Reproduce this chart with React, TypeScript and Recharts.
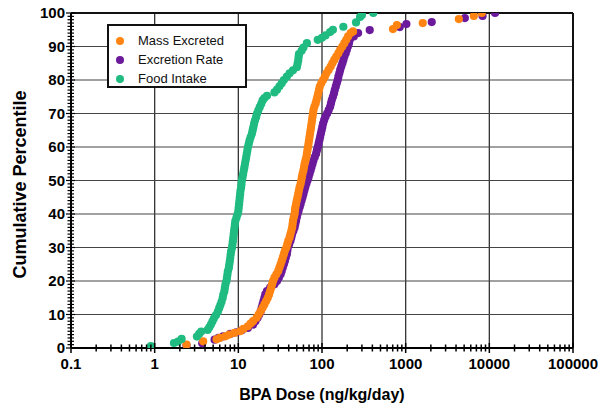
import {
  ScatterChart,
  Scatter,
  XAxis,
  YAxis,
  ReferenceLine,
} from "recharts";

// [dose ng/kg/day, cumulative percentile]
const massExcreted: [number, number][] = [
  [2.4, 1.0], [3.8, 2.0], [5.5, 2.6], [6.0, 3.0], [7.0, 3.5], [7.8, 4.0], [9.0, 4.5],
  [10.5, 5.0], [11.5, 5.7], [13, 6.5], [14, 7.3], [15, 8.0], [16.5, 9.0], [17.5, 10.0],
  [18.5, 11.0], [19.5, 12.0], [20.5, 13.0], [21.5, 14.0], [22.5, 15.0], [23.3, 16.0],
  [24, 17.0], [24.7, 18.0], [25.3, 19.0], [26, 20.0], [27, 21.0], [28.5, 22.0], [30, 23.0],
  [31, 24.0], [32, 25.0], [33, 26.0], [34, 27.0], [35, 28.0], [36, 29.0], [37.5, 30.0],
  [38.5, 31.0], [39.5, 32.0], [41, 33.0], [42, 34.0], [43, 35.0], [44, 36.0], [44.5, 37.0],
  [45, 38.0], [46, 39.0], [47, 40.0], [47.5, 41.0], [48, 42.0], [49, 43.0], [50, 44.0],
  [51, 45.0], [52, 46.0], [53, 47.0], [54, 48.0], [55.5, 49.0], [56.5, 50.0], [57.5, 51.0],
  [58.5, 52.0], [60, 53.0], [61, 54.0], [62, 55.0], [63.5, 56.0], [65, 57.0], [66, 58.0],
  [67, 59.0], [68, 60.0], [69, 61.0], [70, 62.0], [71, 63.0], [72, 64.0], [73, 65.0],
  [74, 66.0], [75, 67.0], [76, 68.0], [77, 69.0], [78, 70.0], [79, 71.0], [81, 72.0],
  [84, 73.0], [86, 74.0], [88, 75.0], [90, 76.0], [92, 77.0], [94, 78.0], [98, 79.0],
  [103, 80.0], [108, 81.0], [113, 82.0], [120, 83.0], [127, 84.0], [133, 85.0], [140, 86.0],
  [148, 87.0], [157, 88.0], [165, 89.0], [175, 90.0], [185, 91.0], [195, 92.0], [205, 93.0],
  [220, 94.0], [235, 94.5], [705, 95.2], [785, 96.4], [1600, 97.0], [4320, 98.2],
  [6530, 99.1], [8130, 100],
];

const excretionRate: [number, number][] = [
  [2.4, 0.8], [3.7, 1.4], [5.2, 2.5], [5.8, 3.0], [6.6, 3.5], [8, 4.2], [9.5, 4.7],
  [11, 5.3], [13, 6.0], [15, 7.0], [16, 8.0], [17, 9.0], [17.8, 10.0], [18.5, 11.0],
  [19, 12.0], [19.5, 13.0], [20, 14.0], [20.5, 15.0], [21, 16.0], [22, 17.0], [24, 18.0],
  [27, 19.0], [29, 20.0], [30.5, 21.0], [32, 22.0], [33, 23.0], [34, 24.0], [35, 25.0],
  [36, 26.0], [37, 27.0], [38, 28.0], [38.5, 29.0], [39, 30.0], [40.5, 31.0], [42, 32.0],
  [43, 33.0], [44, 34.0], [45.5, 35.0], [47, 36.0], [48, 37.0], [49, 38.0], [50, 39.0],
  [51, 40.0], [52.5, 41.0], [54, 42.0], [55.5, 43.0], [57, 44.0], [58.5, 45.0], [60, 46.0],
  [61.5, 47.0], [63, 48.0], [65, 49.0], [67, 50.0], [69, 51.0], [71, 52.0], [73, 53.0],
  [75, 54.0], [77, 55.0], [79, 56.0], [82, 57.0], [85, 58.0], [87, 59.0], [89, 60.0],
  [91, 61.0], [93, 62.0], [95, 63.0], [97, 64.0], [99, 65.0], [101, 66.0], [103, 67.0],
  [106, 68.0], [110, 69.0], [115, 70.0], [120, 71.0], [125, 72.0], [128, 73.0], [131, 74.0],
  [135, 75.0], [139, 76.0], [142, 77.0], [146, 78.0], [150, 79.0], [154, 80.0], [157, 81.0],
  [161, 82.0], [165, 83.0], [170, 84.0], [175, 85.0], [180, 86.0], [185, 87.0], [192, 88.0],
  [198, 89.0], [204, 90.0], [210, 91.0], [215, 92.0], [240, 93.0], [270, 94.0],
  [372, 94.9], [850, 95.8], [1020, 96.7], [2050, 97.3], [5100, 98.5], [8300, 99.1],
  [11700, 100],
];

const foodIntake: [number, number][] = [
  [0.9, 0.6], [1.7, 1.5], [1.9, 1.9], [2.1, 2.7], [3.2, 3.4], [3.4, 4.2], [3.6, 4.9],
  [4.3, 5.4], [4.5, 6.2], [4.7, 7.0], [4.9, 7.9], [5.1, 8.8], [5.4, 9.8], [5.7, 10.9],
  [5.9, 11.9], [6.1, 12.8], [6.3, 13.8], [6.5, 14.9], [6.6, 15.9], [6.8, 16.9], [6.9, 17.9],
  [7.0, 18.9], [7.2, 19.9], [7.3, 20.9], [7.4, 21.9], [7.5, 22.9], [7.7, 23.9], [7.8, 24.9],
  [7.9, 25.9], [8.0, 26.9], [8.1, 27.9], [8.2, 28.9], [8.4, 29.9], [8.5, 30.9], [8.6, 31.9],
  [8.7, 32.9], [8.8, 33.9], [8.9, 34.9], [9.0, 35.9], [9.1, 36.9], [9.2, 37.9], [9.5, 38.9],
  [9.8, 39.9], [10.0, 40.9], [10.1, 41.9], [10.2, 42.9], [10.3, 43.9], [10.4, 44.9],
  [10.5, 45.9], [10.6, 46.9], [10.8, 47.9], [10.9, 48.9], [11.0, 49.9], [11.2, 50.9],
  [11.4, 51.9], [11.6, 52.9], [11.8, 53.9], [12.0, 54.9], [12.2, 55.9], [12.4, 56.9],
  [12.6, 57.9], [12.8, 58.9], [13.0, 59.9], [13.3, 60.9], [13.6, 61.9], [14.0, 62.9],
  [14.5, 63.9], [14.8, 64.9], [15.1, 65.9], [15.4, 66.9], [15.8, 67.9], [16.3, 68.9],
  [16.7, 69.9], [17.3, 70.9], [18.0, 71.9], [18.8, 72.9], [19.5, 73.9], [20.5, 74.6],
  [22, 75.3], [27, 76.3], [29, 77.1], [31, 78.1], [33, 79.0], [35, 80.0], [38, 81.0],
  [41, 82.0], [45, 82.9], [50, 83.8], [51, 84.8], [52, 85.8], [52.5, 86.8], [53, 87.7],
  [57, 88.7], [60, 89.7], [66, 91.0], [89, 92.0], [100, 92.6], [110, 93.3], [125, 94.3],
  [135, 95.0], [180, 95.9], [255, 97.2], [285, 98.8], [300, 99.4], [410, 100],
];

const X_MAJOR = [0.1, 1, 10, 100, 1000, 10000, 100000];
const Y_MAJOR = [0, 10, 20, 30, 40, 50, 60, 70, 80, 90, 100];

// minor tick positions (2..9 per decade, every 1 percentile)
const X_TICKS = X_MAJOR.flatMap((d, i) =>
  i === X_MAJOR.length - 1 ? [d] : [1, 2, 3, 4, 5, 6, 7, 8, 9].map((m) => +(m * d).toPrecision(6))
);
const Y_TICKS = Array.from({ length: 101 }, (_, i) => i);

const SERIES = [
  { name: "Mass Excreted", data: massExcreted, color: "#ff8412" },
  { name: "Excretion Rate", data: excretionRate, color: "#6c1a9c" },
  { name: "Food Intake", data: foodIntake, color: "#1fbb80" },
];
// draw order: purple under orange, green last
const DRAW_ORDER = ["Excretion Rate", "Mass Excreted", "Food Intake"];

const FONT = "'Liberation Sans', Arial, sans-serif";

const isDecade = (v: number) =>
  Math.abs(Math.log10(v) - Math.round(Math.log10(v))) < 1e-6;

function XTick({ x, y, payload }: any) {
  const v = payload.value;
  const major = isDecade(v);
  const h = major ? 5 : 3.5;
  return (
    <g>
      <line x1={x} x2={x} y1={y - h} y2={y + h} stroke="#000" strokeWidth={1.5} />
      {major && (
        <text
          x={x}
          y={y + 21}
          textAnchor="middle"
          fontFamily={FONT}
          fontWeight="bold"
          fontSize={15}
          fill="#000"
        >
          {String(v)}
        </text>
      )}
    </g>
  );
}

function YTick({ x, y, payload }: any) {
  const v = payload.value;
  const major = v % 10 === 0;
  return (
    <g>
      <line
        x1={x - (major ? 5 : 3.5)}
        x2={x + (major ? 4 : 3)}
        y1={y}
        y2={y}
        stroke="#000"
        strokeWidth={1.2}
      />
      {major && (
        <text
          x={x - 6}
          y={y + 5}
          textAnchor="end"
          fontFamily={FONT}
          fontWeight="bold"
          fontSize={15}
          fill="#000"
        >
          {v}
        </text>
      )}
    </g>
  );
}

function Dot(color: string) {
  return (p: any) => <circle cx={p.cx} cy={p.cy} r={4.1} fill={color} />;
}

export default function App() {
  return (
    <div style={{ position: "relative", width: 607, height: 412, background: "#fff" }}>
      <style>{"body{margin:0}"}</style>
      <ScatterChart
        width={607}
        height={412}
        margin={{ top: 13, right: 34, bottom: 0, left: 0 }}
      >
        {[1, 10, 100, 1000, 10000].map((v) => (
          <ReferenceLine key={"vx" + v} x={v} stroke="#333" strokeWidth={1.3} />
        ))}
        {Y_MAJOR.slice(1, -1).map((v) => (
          <ReferenceLine key={"hy" + v} y={v} stroke="#444" strokeWidth={1.2} />
        ))}
        <ReferenceLine y={100} stroke="#111" strokeWidth={2} />
        <ReferenceLine x={100000} stroke="#111" strokeWidth={2} />
        <XAxis
          type="number"
          dataKey="x"
          scale="log"
          domain={[0.1, 100000]}
          allowDataOverflow
          ticks={X_TICKS}
          interval={0}
          tickSize={0}
          tickMargin={0}
          tickLine={false}
          tick={<XTick />}
          axisLine={{ stroke: "#000", strokeWidth: 2 }}
          height={64}
          label={{
            value: "BPA Dose (ng/kg/day)",
            position: "insideBottom",
            offset: 12,
            fontFamily: FONT,
            fontWeight: "bold",
            fontSize: 16,
            fill: "#000",
          }}
        />
        <YAxis
          type="number"
          dataKey="y"
          domain={[0, 100]}
          allowDataOverflow
          ticks={Y_TICKS}
          interval={0}
          tickSize={0}
          tickMargin={0}
          tickLine={false}
          tick={<YTick />}
          axisLine={{ stroke: "#000", strokeWidth: 2 }}
          width={71}
          label={{
            value: "Cumulative Percentile",
            angle: -90,
            position: "center",
            dx: -16,
            dy: 4,
            fontFamily: FONT,
            fontWeight: "bold",
            fontSize: 18,
            fill: "#000",
          }}
        />
        {DRAW_ORDER.map((n) => {
          const s = SERIES.find((q) => q.name === n)!;
          return (
            <Scatter
              key={s.name}
              name={s.name}
              data={s.data.map(([x, y]) => ({ x, y }))}
              fill={s.color}
              shape={Dot(s.color)}
              isAnimationActive={false}
            />
          );
        })}
      </ScatterChart>
      <div
        style={{
          position: "absolute",
          left: 107,
          top: 24,
          width: 136,
          height: 60,
          border: "2px solid #111",
          background: "#fff",
          fontFamily: FONT,
          fontSize: 13,
          color: "#111",
          boxSizing: "content-box",
        }}
      >
        {SERIES.map((s, i) => (
          <div
            key={s.name}
            style={{
              position: "absolute",
              left: 0,
              top: 5 + i * 19,
              height: 19,
              display: "flex",
              alignItems: "center",
            }}
          >
            <span
              style={{
                display: "inline-block",
                width: 8,
                height: 8,
                borderRadius: 4,
                background: s.color,
                marginLeft: 7,
                marginRight: 14,
              }}
            />
            {s.name}
          </div>
        ))}
      </div>
    </div>
  );
}
